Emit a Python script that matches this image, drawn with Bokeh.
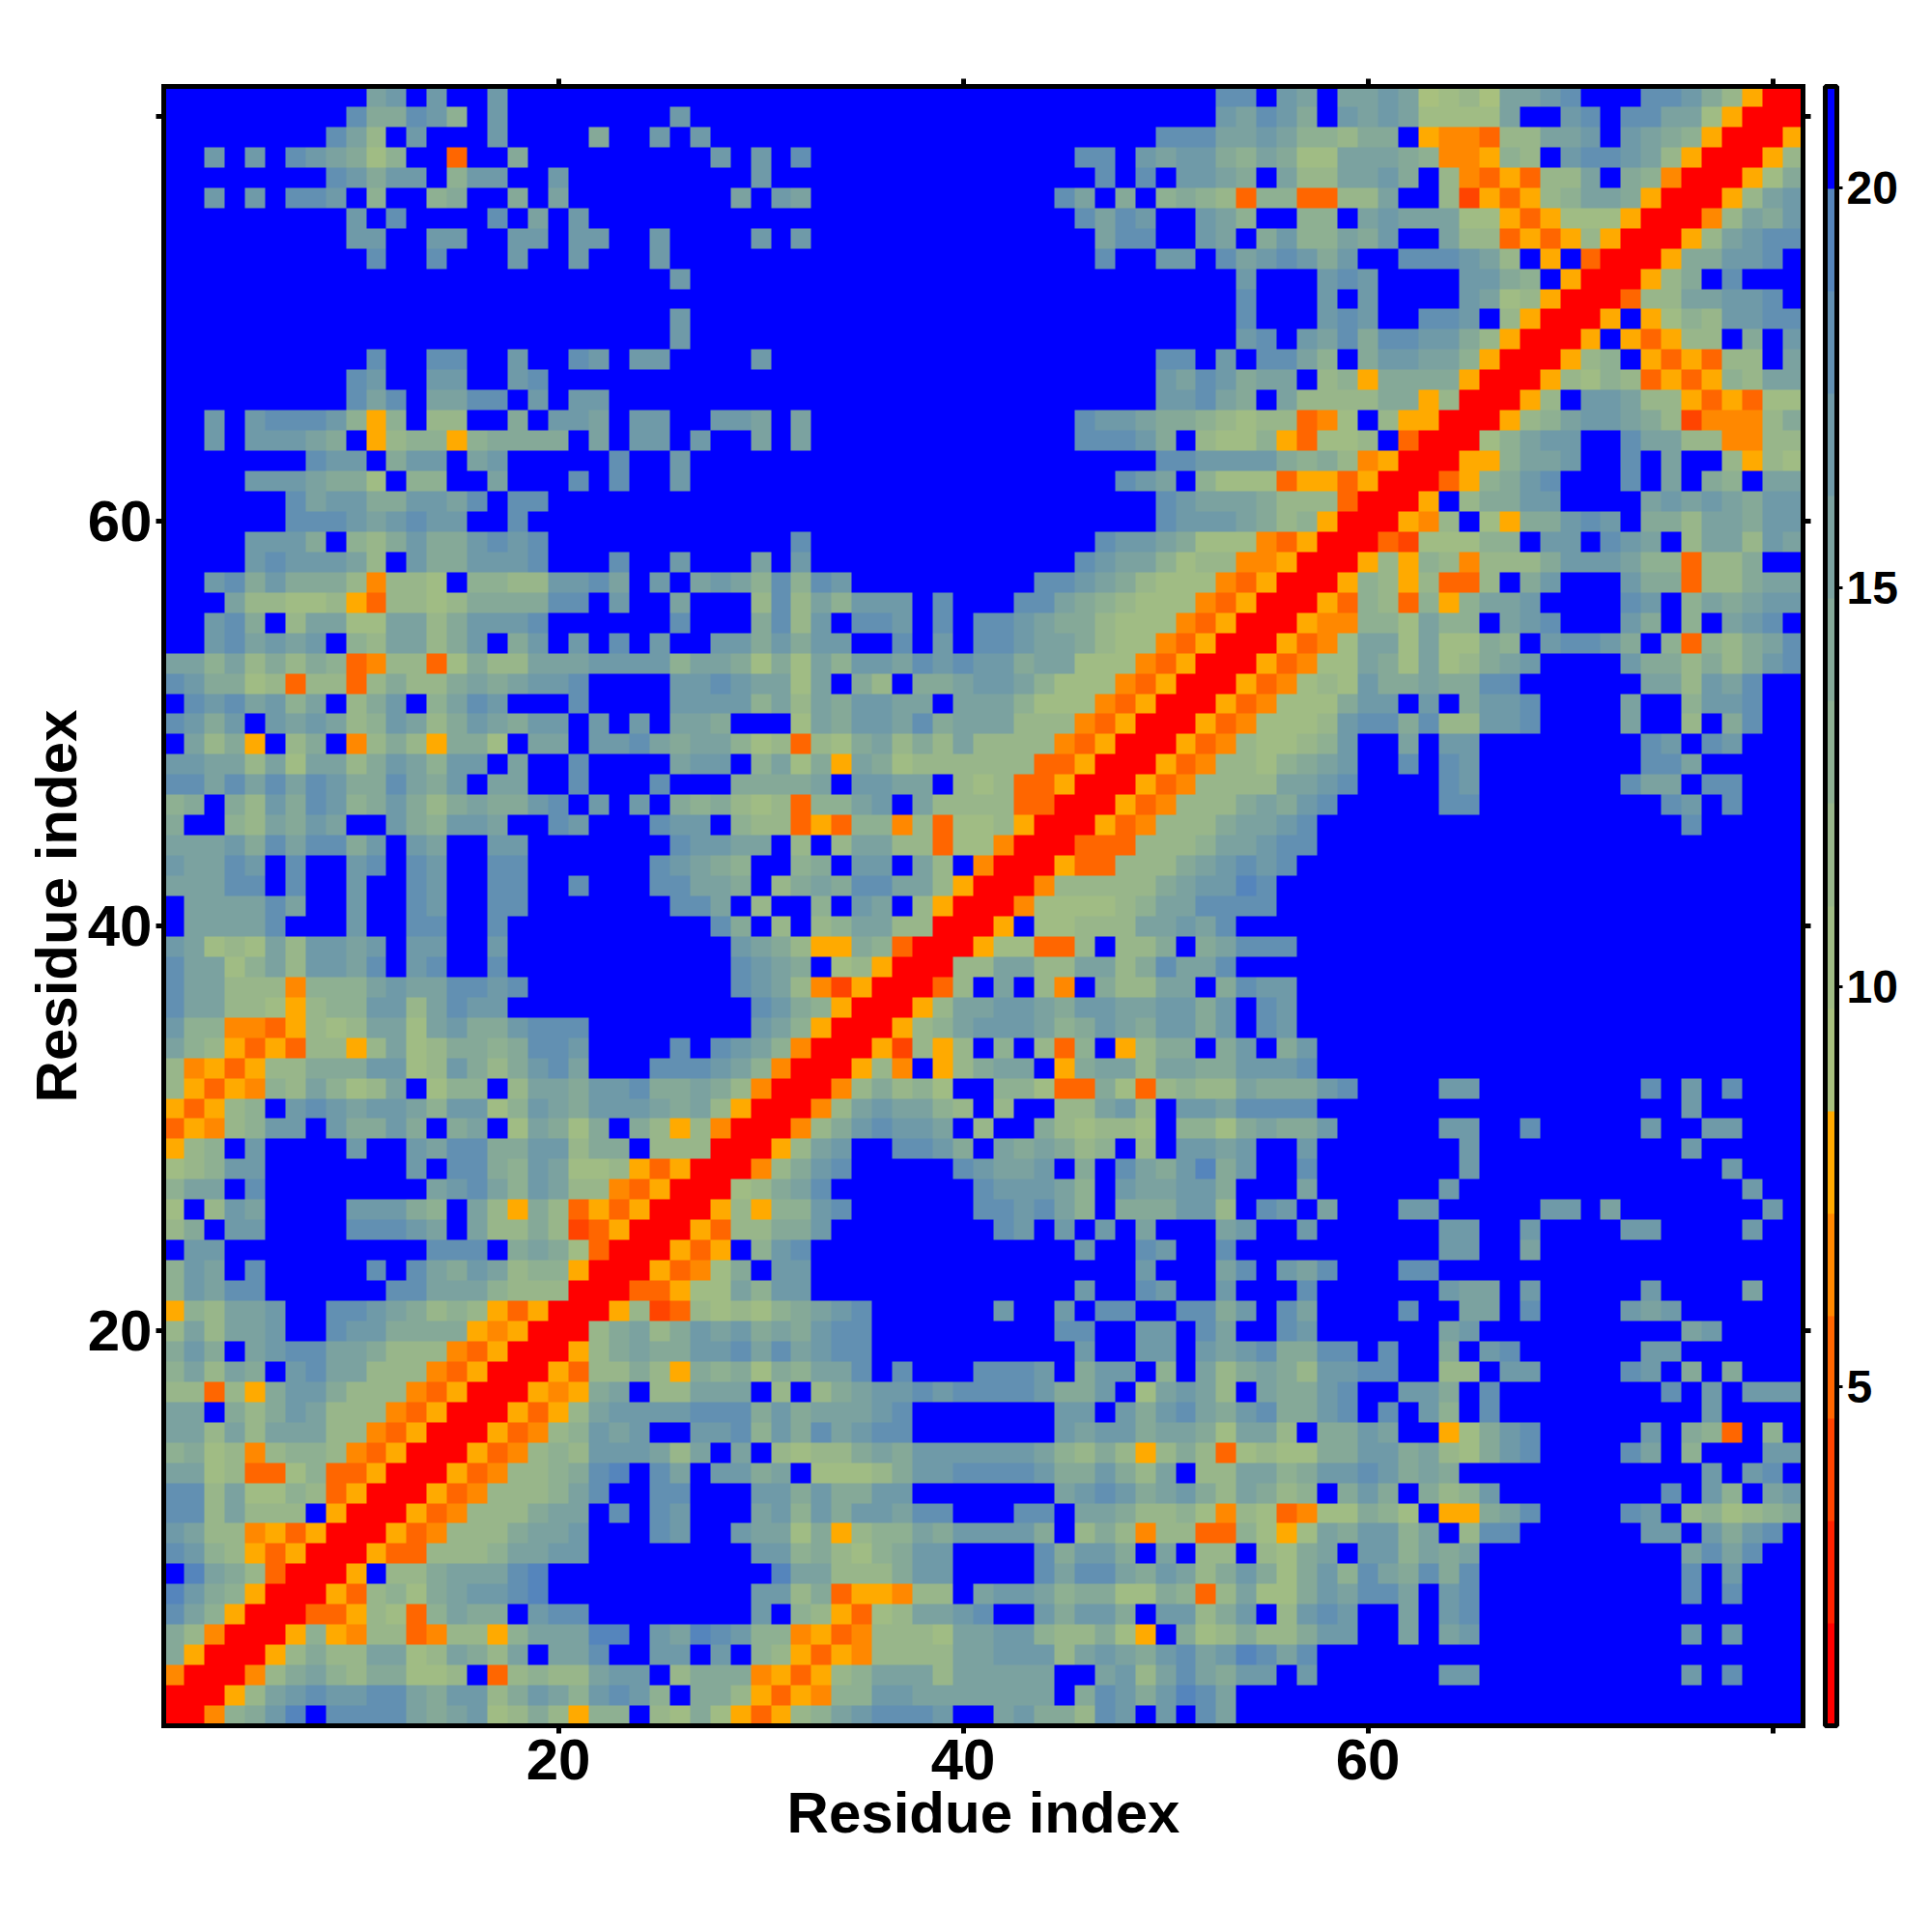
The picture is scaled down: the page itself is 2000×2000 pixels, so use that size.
from bokeh.embed import file_html
from bokeh.resources import INLINE
from bokeh.plotting import figure
from bokeh.models import LinearColorMapper, ColorBar, FixedTicker, LinearAxis, Range1d
import numpy as np

# One hex digit per residue pair = distance bin (0 red ... f blue). Rows run top to bottom.
TOP_LEFT = [
"ffffffffffbcfcffcffffffffff","fffffffffdaadc9fcffffffffcf","ffffffffdb8fcfffcffffaffcfc","ffcfcfdcba79ff3ffafffffffff",
"ffffffffdcaccf9cc"+"ff"+"c"+"fffffff","ffcfcfddcf9ff9affafbfffffff","fffffffffcfdffffdfbfcffffff","fffffffffccffccffccfccffcff",
"ffffffffffdffdfffcffcfffcff","f"*25+"cf","f"*27,"f"*25+"cf","f"*25+"cf",
"ffffffffffdffddffcffdcfccff","fffffffffdcffccffcd"+"f"*8,"fffffffffdbdfbbddfcfccfffff",
"ffcfcdddc959f88ffafccbfccff","ffcfcccbaf5899"+"59aaaafbfccfc","fffffffdccfaccfbcfffffdffcf",
"ffffcccbaa7f99ffbfffdfdffcf","ffffffdbccaaccbdfdd"+"f"*8,"ffffffdddcbcdccffd"+"f"*9,
"ffffcccaf98acaacdcd"+"f"*8,"ffffcdcccb8fcaacccdfffdffcf","ffcdacaaa84887f9988ccdbfcfb",
"fffb8877853887"+"8aaaaddfcffbf","ffcdaf8bb77bb8acccdffffffdf",
]
TOP_MID = [
"f"*25+"dd","f"*25+"cb","f"*22+"dddbb","cfcfd"+"f"*13+"ddfcbcca9","ffc"+"f"*16+"dfdfccba",
"fbfcb"+"f"*12+"dbfaf9a983",
"f"*18+"dbdcffcb9","ffcfc"+"f"*14+"bddffcbf","f"*19+"dffccfdb","f"*26+"c","f"*26+"d","f"*26+"d","f"*26+"c",
"ffc"+"f"*19+"ddfcf","f"*22+"cbdca","f"*22+"ccdba","ccbfb"+"f"*13+"dccbaa987","ffbfb"+"f"*13+"dddcaf877",
"f"*22+"ddccc","f"*20+"dcbf977","f"*22+"dcbbb","f"*22+"dcccb","ffffd"+"f"*14+"dccba777","ffbfc"+"f"*13+"dcbb97884",
"cb9d9dc"+"f"*9+"ddcba877743","ff8d8b9cccfdfff"+"ddba98777435","ffad8cfddcfdf"+"ddcbaa87774350",
]
TOP_RIGHT = [
"fcbfbbcb6786bbcdfffddca8500","dcafcbcb7777bffcdfddbb75000","cb998aaf54438"+"8bbcfcba95"+"0005","ba77bbba944598fcddcb85000"+"58",
"fb88bbcaf84353"+"88bfa94000"+"57a","9933"+"88bff82535"+"89bba5000"+"58bc","ff99fbcbbb77535"+"7775000"+"48bac","ac99bacffb88353"+"585000"+"58bcdd",
"cdcacffdddcb8f5f3000"+"5aaccdf","fffcdcffffcca9f5000"+"58afdfff","fffcfcffffcb785000"+"388bbccdf","fffcdcffddcf85000"+"5f5798ccdd",
"dfcbdaddcca85000"+"5f535"+"88fafc","ddb9faccbb95000"+"589f5353"+"88fb","bbf895aaaa5000"+"58798"+"3535"+"98bb","fb8888aa58000"+"58fccb88"+"5353"+"77",
"88347f855000"+"589bccba82"+"444"+"8a","95377"+"8f3000"+"79bccffdbb88"+"4488","ca9a845000"+"559bbcffdfbff8587","735535000359acdfffdfbfa9fbb",
"a88830005f8aaccffffbcbcbacc","a895000"+"548f75aacdcfaa8bbacc","4350003"+"2777"+"99fccfdcbf8bb8cb","45000"+"5859848"+"88acccb99388aff",
"50005"+"98583"+"38facfffcaa388abb","00053"+"983959bbcffffdcf9babcc","00544997b99fbcdfffcaf9fbcdf",
]
MID_LEFT = [
"ffcdbcbcf98bb8acfacfcfdfcff","bb9b8a8a93488"+"37a88bbbcccc9b","dcaa78"+"3883"+"8a88abab"+"ccdffffcc","fdcdbc9bf8acf9bdcfffdffffcc",
"dcacfcbcb89cb8acbaccfcfcfbb","fb8a5f8af48a85aa7fbbfccdbab","ccbb8b7bb8acb9ccfbffdffffbc","ddbdbdbdcaadbacfbbffdfffdff",
"9afa8cadc9aca8abaacdfcfcfa9","aff98bacbffca9ccbffdcfffdcc","bbbcadbddacfcbffcc"+"f"*7+"dc","cbbdcfdffcdfdcffdd"+"f"*6+"dcb",
"bbbddfdffcffdcffddffdfffddb","fbbbbdbffcffdcffdd"+"f"*7+"dd","fbbbbdfffcffddffd"+"f"*10,"cb787b8ccbcfccffc"+"f"*10,
"dbb79b8ccbdfcdffd"+"f"*10,"dbb8884999bcbbddcd"+"f"*9,"dbb8875899cc8bdcc"+"f"*10,"c9944358"+"78bb7bcaacddd"+"f"*6,
"b98"+"5353885"+"8b78aa9addc"+"ffffdf","84535"+"88aaacc78ca8acdbfffddd","85354"+"98b978bf799f8bbaccdaab","53589fcdcbccb9cc79cbacccbab",
"35489ccfcaacafabf7ba7afa858","589fcffffcffcbddaacc8aaf888","789cc"+"f"*7+"cfdda9cb77"+"85350",
]
MID_MID = [
"ccacaccffdfcfddcbba8774"+"3500","ba7a7b9ccbdcdccabb777435000","dcbb7bfa8faabccb977743"+"50005","cc9b8bacc"+"bbfbbb9777435000"+"53",
"afff7baccbdabbb888435000"+"534","b978387ab8a8b8888435000"+"5348","cf9b7a5ba"+"788888"+"8335000"+"53488","faaaabfccbbf878335000"+"534888",
"a87839"+"9bcfb8888"+"33000"+"534888a","f988353"+"99483"+"7785000"+"534888ab","cbbf8f8bb883"+"774000"+"333888"+"9bb","a9ff9afccfb8f4000"+"533888abcd",
"baf8abaddbb85000"+"488888abcce","bf8ff9fcbf85000"+"47777"+"89bbddd","daf8f89bb88000"+"5f77888bbcbdf","fcba855a93000"+"57733"+"8f88afabd",
"fdcbaf785000"+"88bb88bb8adbbdf","fdcb8425000"+"38fbf84fa88bbfad","ffdca95000"+"58bbccbaccbbccacf","ffcb95000"+"589bcccb9acbaccacf",
"dcb94000"+"52858f9f839f58aafac","cb94000"+"584f58abbf5abb8bbaac","a84000"+"48a897ff997"+"33a73"+"8988b","85000"+"48bcbb98f8ff88bc8fccbd",
"40004"+"8acdccbf8ffa87887f997a","00058bcffddcafbaba89f8fccbc","0048acd"+"fffff"+"dcbbcfafdbaceac",
]
MID_RIGHT = [
"05347bb7b77a9fcddcaf9398abd","53477ba7b78abcffffcaa8a8acd","34787caabaadd"+"f"*6+"bb8cbdff","4777accfcfaccd"+"ffff"+"bff9ccdff",
"7778cddad88ccd"+"ffff"+"bff8fadff","7789cffbfcc"+"f"*8+"dcfdcfff","79abcffdfdc"+"f"*8+"ddb"+"fffff","8bbcd"+"ffff"+"dc"+"f"*7+"dbbfddfff",
"bacd"+"fffff"+"dd"+"f"*9+"dcfdfff","bcd"+"f"*18+"dfffff","cdd"+"f"*24,"cd"+"f"*25,"d"+"f"*26,"d"+"f"*26,"f"*27,
"dd"+"f"*25,"f"*27,"cc"+"f"*25,"dc"+"f"*25,"dc"+"f"*25,"fac"+"f"*24,"ccd"+"f"*24,
"aaacd"+"ffff"+"cc"+"f"*8+"dfcfdfff","ddd"+"f"*18+"cfffff","baac"+"fffff"+"ccffdfffffcffccfff",
"ffc"+"f"*7+"c"+"f"*10+"cfffff","ffd"+"f"*7+"c"+"f"*12+"cfff",
]
BOT_LEFT = [
"9bbfd"+"f"*8+"bcdb9cb88"+"43500","7f8cb"+"ffff"+"ccca9fb85a8"+"3535000","8afcc"+"ffff"+"dddcbfb88a8"+"2350005","fcc"+"f"*10+"dddfaba73"+"00053",
"9cbfd"+"fffff"+"dfdbacb8995000"+"534","9cbdd"+"f"*6+"ddbbb9888000"+"3357","598bbcffddcba898535000"+"58238","8b8bbcffdccaaaa545000"+"8ab8ac",
"acafbcddbba888435000"+"58abaac","9b8bafcdbb888435000"+"5388a85a","88385acca888435000545abf88b","bbfa8acb888435000"+"5358bccccd",
"bb8b8bbb88435000"+"53489cbcffc","9a7848998435000"+"5348"+"98cccb8b","bb783379335000"+"5348"+"89adefdbf","dd8b77983"+"5000"+"534"+"8889bdffddf",
"dd8b888f5000"+"534"+"888abbfdfdcf","cb884535000"+"534"+"888abbcfffdcf","dc98535000"+"533"+"8889bbcc"+"f"*6,"feba83000"+"5f88abbbde"+"f"*8,
"eca95000"+"53897abccde"+"f"*8,"db95000"+"3358739baafcdd"+"f"*6,"a84000"+"5954883488"+"59bbbeefcbe","a5000"+"58a88bb78ba8bfbbdffccf",
"40004"+"8ab98aa778f389"+"88bccf8a","00058bcdccddbacc8acb9cdc9fa","0049acefddddbabc78a8599f87a",
]
BOT_MID = [
"078abd"+"f"*7+"dcccb9fcbbccaf","58599cd"+"f"*6+"ddcdb9faaacc8f","388aac"+"f"*8+"dcfcfcfbfffbc","5f9cd"+"f"*13+"cffdcffdf",
"7afcc"+"f"*16+"cfffbd","7b9cc"+"f"*13+"cffdcffcf","7879abcd"+"f"*6+"cffcfddffddac","bcabacdd"+"f"*9+"ddffccfdbf",
"cdbdbcdd"+"f"*10+"cffccfcbc","9a7a9bbdfdfffdddcfaccf9fb8a","bbf8f8abccdcddddcaacf7bcb8f","ddacabbbcd"+"f"*7+"ccfcacdbac",
"cd9cadbcdd"+"f"*7+"cbccabba7b","fbf8788abaccccccb98a858a837","ccabf7778accddddcaaca8bf88b","ffccacaacc"+"f"*7+"bcdcabca8b",
"ffbc9cacc"+"bddfffddfbba8897"+"48","fcbb7a5899baccccaf8a848"+"8339","ffcc9a879acc"+"ffff"+"daccafbf88f","fffebb888acc"+"ffff"+"dbddbacb8ac",
"ffcc8a355488fbccb9aa77a938b","ffcf985"+"378bbcdffcaccafcc8ac","dc9945348887bbcc988a75fa78a","cf9853548888bbccc8bcbacdbce",
"aa45358"+"9bbb8bbbbbffbc8bdbac","a8535499ccbbbbbbbfadcacedbf","753589bcdddcffbcaa8dcfcfdbf",
]
BOT_RIGHT = [
"ffb"+"f"*6+"c"+"f"*14+"cff","dcfbfffccfffffccfb"+"f"*7+"cf","ffc"+"f"*6+"ccffc"+"ffff"+"cc"+"ffff"+"cff","f"*9+"ccffb"+"f"*13,
"fcbdfffdd"+"f"*18,"ffd"+"f"*6+"cbbfcfffffcffffbff","fdbffffdffbbfdffffcbc"+"f"*6,"fdc"+"f"*6+"bc"+"f"*10+"bcffff",
"daaddfdffafcd"+"f"*6+"cc"+"f"*6,"ba8ccddff88fcc"+"ffff"+"dcfafafff","baacdffccafd"+"f"*8+"dfcfccc","daacdfdfc9fd"+"f"*10+"cffff",
"b8faacbff57acd"+"fffff"+"cfa93f9f","877aaccab87acd"+"ffff"+"dbf9fffcc","b9accdcaba"+"f"*12+"cfcdf","a89facafa89c"+"f"*8+"dfc9fbc",
"73477a97f55abd"+"ffff"+"dcf89789a","757bacc9bf8dd"+"f"*6+"ccfcacdf","87abfcc9bab"+"f"*10+"bdbdff","a7ac9dbadad"+"f"*10+"dfcfff",
"77acbddbfcd"+"f"*10+"dfdfff","f8cdcffbfcd"+"f"*16,"88accffbfbc"+"f"*10+"cfcfff","dbd"+"f"*24,
"cfc"+"f"*6+"cc"+"f"*10+"cfdfff","f"*27,"f"*27,
]

LOW, HIGH = 0.75, 21.27
TICKS = [20, 40, 60]
UNLABELLED_TICKS = [80]
ALL_TICKS = [20, 40, 60, 80]
CB_TICKS = [5, 10, 15, 20]
PALETTE = ["#FF0000","#FF2200","#FF4400","#FF6600","#FF8800","#FFAA00",
           "#A8C07E","#A0BC84","#98B68A","#8EB092","#85A998","#7BA2A0","#6F9AA8","#6290B2","#5585BC","#0000FF"]

def fit(r):
    return (r + "f" * 27)[:27]

rows = []
for a, b, c in [(TOP_LEFT, TOP_MID, TOP_RIGHT), (MID_LEFT, MID_MID, MID_RIGHT), (BOT_LEFT, BOT_MID, BOT_RIGHT)]:
    for i in range(27):
        rows.append(fit(a[i]) + fit(b[i]) + fit(c[i]))

step = (HIGH - LOW) / 16
matrix = np.array([[LOW + (int(ch, 16) + 0.5) * step for ch in r] for r in rows])[::-1]

mapper = LinearColorMapper(palette=PALETTE, low=LOW, high=HIGH)
p = figure(frame_width=1697, frame_height=1697, x_range=Range1d(0.5, 81.5), y_range=Range1d(0.5, 81.5),
           output_backend="svg", toolbar_location=None, tools="",
           min_border_left=169, min_border_top=89, min_border_bottom=150, min_border_right=130,
           x_axis_label="Residue index", y_axis_label="Residue index", background_fill_color="white")
p.image(image=[matrix], x=0.5, y=0.5, dw=81, dh=81, color_mapper=mapper)
p.grid.visible = False
p.outline_line_color = None

def style_frame_axis(ax):
    ax.major_tick_in = 0
    ax.major_tick_out = 8
    ax.major_tick_line_width = 5
    ax.major_tick_line_color = "black"
    ax.minor_tick_in = 0
    ax.minor_tick_out = 8
    ax.minor_tick_line_width = 5
    ax.minor_tick_line_color = "black"
    ax.axis_line_color = "black"
    ax.axis_line_width = 5
    ax.axis_line_cap = "square"

for ax in [p.xaxis[0], p.yaxis[0]]:
    ax.ticker = FixedTicker(ticks=TICKS, minor_ticks=UNLABELLED_TICKS)
    style_frame_axis(ax)
    ax.major_label_text_font = "Liberation Sans"
    ax.major_label_text_font_style = "bold"
    ax.major_label_text_font_size = "60px"
    ax.major_label_text_color = "black"
    ax.axis_label_text_font = "Liberation Sans"
    ax.axis_label_text_font_style = "bold"
    ax.axis_label_text_font_size = "60px"
    ax.axis_label_text_color = "black"
p.xaxis[0].major_label_standoff = 6
p.yaxis[0].major_label_standoff = 4
p.xaxis[0].axis_label_standoff = -2
p.yaxis[0].axis_label_standoff = -4
p.yaxis[0].major_label_orientation = "horizontal"

for side in ["above", "right"]:
    ax = LinearAxis(ticker=FixedTicker(ticks=[], minor_ticks=ALL_TICKS))
    style_frame_axis(ax)
    p.add_layout(ax, side)

cb = ColorBar(color_mapper=mapper, ticker=FixedTicker(ticks=CB_TICKS), width=12, height=1697,
              location=(15, 0), margin=0, padding=0, scale_alpha=1,
              bar_line_color="black", bar_line_width=5,
              major_tick_in=0, major_tick_out=6, major_tick_line_color="black", major_tick_line_width=3,
              minor_tick_line_color=None, label_standoff=4,
              major_label_text_font="Liberation Sans", major_label_text_font_style="bold",
              major_label_text_font_size="48px", major_label_text_color="black")
p.add_layout(cb, "right")

open("out.html", "w").write(file_html(p, INLINE))
